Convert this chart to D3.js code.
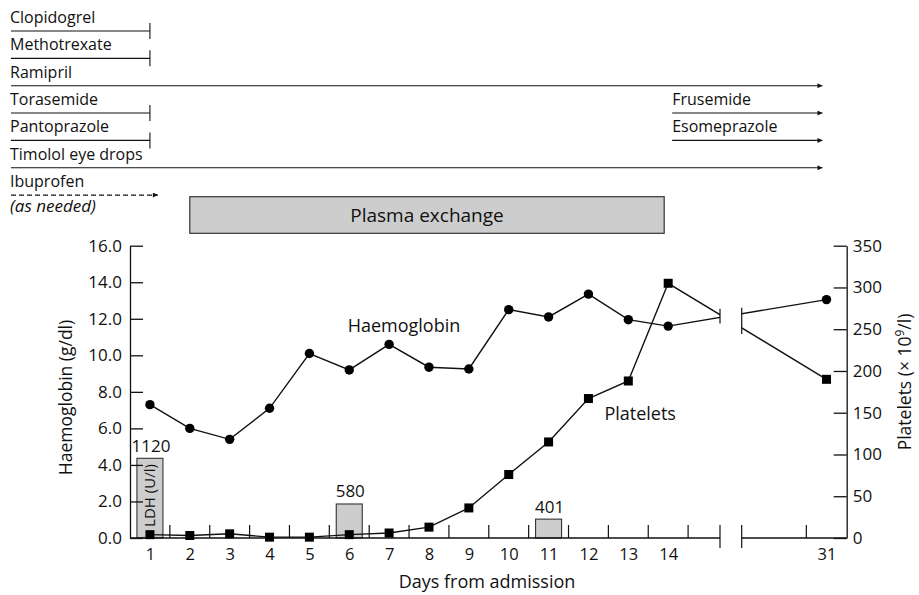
<!DOCTYPE html>
<html>
<head>
<meta charset="utf-8">
<script src="https://cdn.jsdelivr.net/npm/d3@7"></script>
<style>
body { margin: 0; background: #fff; }
text { font-family: "Open Sans", sans-serif; fill: #111; }
</style>
</head>
<body>
<script>
//SVG dimension variables
var w = 919, h = 595;

//days on the x axis (axis is broken between 14 and 31)
var days = [1, 2, 3, 4, 5, 6, 7, 8, 9, 10, 11, 12, 13, 14, 31];
//haemoglobin g/dl
var haemoglobin = [7.3, 6.0, 5.4, 7.1, 10.1, 9.2, 10.6, 9.35, 9.25, 12.5, 12.1, 13.35, 11.95, 11.6, 13.05];
//platelets x 10^9/l
var platelets = [4, 3, 5, 1, 1, 4, 6, 13, 36, 76, 115, 167, 188, 305, 190];

//LDH bars
var ldhDays = [1, 6, 11];
var ldhValues = [1120, 580, 401];

//tick values
var hbTicks = [0, 2, 4, 6, 8, 10, 12, 14, 16];
var pltTicks = [0, 50, 100, 150, 200, 250, 300, 350];
var dayLabels = [1, 2, 3, 4, 5, 6, 7, 8, 9, 10, 11, 12, 13, 14, 31];
var minorTicks = [1.5, 2.5, 3.5, 4.5, 5.5, 6.5, 7.5, 8.5, 9.5, 10.5, 11.5, 12.5, 13.5, 14.5, 30.5];

//medication rows at the top
var drugNames = ["Clopidogrel", "Methotrexate", "Ramipril", "Torasemide", "Pantoprazole", "Timolol eye drops", "Ibuprofen"];
var drugEnd = [1, 1, 30.9, 1, 1, 30.9, 1.2]; //day the line stops
var drugOngoing = [false, false, true, false, false, true, true]; //arrow instead of stop bar
var drugDashed = [false, false, false, false, false, false, true];
var addedDrugs = ["Frusemide", "Esomeprazole"];
var addedRow = [3, 4];
var addedStart = [14.1, 14.1];
var addedEnd = [30.9, 30.9];
var plasmaDays = [2, 13.9];

window.onload = function(){

    var svg = d3.select("body")
        .append("svg")
        .attr("width", w)
        .attr("height", h);

    //broken day scale: 0.5-15.3 | gap | 28.9-31.5
    var x = d3.scaleLinear()
        .domain([0.5, 15.3, 28.9, 31.5])
        .range([130, 720, 741.7, 846.7]);

    var y = d3.scaleLinear() //haemoglobin
        .domain([0, 16])
        .range([538, 245.7]);

    var yP = d3.scaleLinear() //platelets
        .domain([0, 350])
        .range([538, 245.7]);

    //LDH bars are only schematic, fitted to the drawn heights
    var ldhY = d3.scaleLinear()
        .domain([178, 1120])
        .range([538, 458.3]);

    var rowY = function(i){ return 31 + i * 27.35; };
    var labelX = 11;

    //arrow head
    svg.append("defs").append("marker")
        .attr("id", "arrow")
        .attr("viewBox", "0 0 10 10")
        .attr("refX", 10)
        .attr("refY", 5)
        .attr("markerWidth", 11)
        .attr("markerHeight", 5)
        .attr("markerUnits", "userSpaceOnUse")
        .attr("orient", "auto")
        .append("path")
        .attr("d", "M0,0L10,5L0,10z")
        .style("fill", "#111")
        .style("stroke", "none");

    //clip that hides the gap of the axis break
    var clip = svg.select("defs").append("clipPath").attr("id", "gap");
    clip.append("rect").attr("x", 0).attr("y", 0).attr("width", x(15.3)).attr("height", h);
    clip.append("rect").attr("x", x(28.9)).attr("y", 0).attr("width", w - x(28.9)).attr("height", h);

    //---- medication rows ----
    var drugs = svg.append("g").attr("class", "drugs");
    drugNames.forEach(function(name, i){
        drugs.append("text")
            .attr("x", labelX - 1)
            .attr("y", rowY(i) - 8)
            .style("font-size", "16px")
            .text(name);
        var ln = drugs.append("line")
            .attr("x1", labelX)
            .attr("x2", x(drugEnd[i]))
            .attr("y1", rowY(i))
            .attr("y2", rowY(i))
            .style("stroke", "#111")
            .style("stroke-width", 1.1);
        if (drugDashed[i]) ln.style("stroke-dasharray", "5,3");
        if (drugOngoing[i]) {
            ln.attr("marker-end", "url(#arrow)");
        } else {
            drugs.append("line")
                .attr("x1", x(drugEnd[i]))
                .attr("x2", x(drugEnd[i]))
                .attr("y1", rowY(i) - 8)
                .attr("y2", rowY(i) + 8)
                .style("stroke", "#111")
                .style("stroke-width", 1.1);
        }
    });
    drugs.append("text")
        .attr("x", labelX - 1)
        .attr("y", 212)
        .style("font-size", "17px")
        .style("font-style", "italic")
        .text("(as needed)");

    addedDrugs.forEach(function(name, i){
        drugs.append("text")
            .attr("x", x(addedStart[i]))
            .attr("y", rowY(addedRow[i]) - 8)
            .style("font-size", "16px")
            .text(name);
        drugs.append("line")
            .attr("x1", x(addedStart[i]))
            .attr("x2", x(addedEnd[i]))
            .attr("y1", rowY(addedRow[i]))
            .attr("y2", rowY(addedRow[i]))
            .attr("marker-end", "url(#arrow)")
            .style("stroke", "#111")
            .style("stroke-width", 1.1);
    });

    //plasma exchange box
    svg.append("rect")
        .attr("x", x(plasmaDays[0]))
        .attr("y", 196.7)
        .attr("width", x(plasmaDays[1]) - x(plasmaDays[0]))
        .attr("height", 36.6)
        .style("fill", "#cdcdcd")
        .style("stroke", "#333")
        .style("stroke-width", 1.2);
    svg.append("text")
        .attr("x", (x(plasmaDays[0]) + x(plasmaDays[1])) / 2)
        .attr("y", 222)
        .attr("text-anchor", "middle")
        .style("font-size", "19px")
        .text("Plasma exchange");

    //---- LDH bars ----
    svg.selectAll(".ldh")
        .data(ldhValues)
        .enter()
        .append("rect")
        .attr("class", "ldh")
        .attr("x", function(d, i){ return x(ldhDays[i]) - 13; })
        .attr("y", function(d){ return ldhY(d); })
        .attr("width", 26)
        .attr("height", function(d){ return ldhY.range()[0] - ldhY(d); })
        .style("fill", "#cdcdcd")
        .style("stroke", "#333")
        .style("stroke-width", 1.1);

    svg.selectAll(".ldhLabel")
        .data(ldhValues)
        .enter()
        .append("text")
        .attr("class", "ldhLabel")
        .attr("x", function(d, i){ return x(ldhDays[i]) + 1; })
        .attr("y", function(d){ return ldhY(d) - 6.5; })
        .attr("text-anchor", "middle")
        .style("font-size", "17px")
        .text(function(d){ return d; });

    svg.append("text")
        .attr("transform", "translate(" + (x(ldhDays[0]) + 5) + ",495.5) rotate(-90)")
        .attr("text-anchor", "middle")
        .style("font-size", "15px")
        .text("LDH (U/l)");

    //---- axes ----
    var yAxis = svg.append("g")
        .attr("transform", "translate(" + x(0.5) + ",0)")
        .call(d3.axisLeft(y).tickValues(hbTicks).tickSize(-13).tickSizeOuter(0).tickPadding(8)
            .tickFormat(d3.format(".1f")));

    var pAxis = svg.append("g")
        .attr("transform", "translate(" + x(31.5) + ",0)")
        .call(d3.axisRight(yP).tickValues(pltTicks).tickSize(-13).tickSizeOuter(0).tickPadding(6));

    var xAxis = svg.append("g")
        .attr("transform", "translate(0,538)")
        .call(d3.axisBottom(x).tickValues(dayLabels).tickSize(0).tickPadding(10));
    xAxis.select(".domain").remove();

    [yAxis, pAxis, xAxis].forEach(function(g){
        g.attr("font-family", null).attr("font-size", null);
        g.selectAll("text").style("font-size", "17px").style("fill", "#111");
        g.selectAll("line, path").style("stroke", "#111").style("stroke-width", 1.3);
    });
    xAxis.selectAll("text").style("font-size", "16.5px");

    //broken bottom axis line
    var axisParts = [[0.5, 15.3], [28.9, 31.5]];
    svg.selectAll(".xline")
        .data(axisParts)
        .enter()
        .append("line")
        .attr("class", "xline")
        .attr("x1", function(d){ return x(d[0]); })
        .attr("x2", function(d){ return x(d[1]); })
        .attr("y1", 538)
        .attr("y2", 538)
        .style("stroke", "#111")
        .style("stroke-width", 1.3);

    //half-day ticks pointing up
    svg.selectAll(".minor")
        .data(minorTicks)
        .enter()
        .append("line")
        .attr("class", "minor")
        .attr("x1", function(d){ return x(d); })
        .attr("x2", function(d){ return x(d); })
        .attr("y1", 525)
        .attr("y2", 538)
        .style("stroke", "#111")
        .style("stroke-width", 1.2);

    //break marks on the axis
    svg.selectAll(".brk")
        .data([15.3, 28.9])
        .enter()
        .append("line")
        .attr("class", "brk")
        .attr("x1", function(d){ return x(d); })
        .attr("x2", function(d){ return x(d); })
        .attr("y1", 525)
        .attr("y2", 548)
        .style("stroke", "#111")
        .style("stroke-width", 1.2);

    //axis titles
    svg.append("text")
        .attr("transform", "translate(72,397.5) rotate(-90)")
        .attr("text-anchor", "middle")
        .style("font-size", "17.5px")
        .text("Haemoglobin (g/dl)");

    var pTitle = svg.append("text")
        .attr("transform", "translate(911,382) rotate(-90)")
        .attr("text-anchor", "middle")
        .style("font-size", "17.5px");
    pTitle.append("tspan").text("Platelets (\u00d7 10");
    pTitle.append("tspan").attr("dy", -7).style("font-size", "12px").text("9");
    pTitle.append("tspan").attr("dy", 7).text("/l)");

    svg.append("text")
        .attr("x", 487)
        .attr("y", 588)
        .attr("text-anchor", "middle")
        .style("font-size", "18px")
        .text("Days from admission");

    //---- data lines ----
    var hbLine = d3.line()
        .x(function(d, i){ return x(days[i]); })
        .y(function(d){ return y(d); });
    var pLine = d3.line()
        .x(function(d, i){ return x(days[i]); })
        .y(function(d){ return yP(d); });

    var lines = svg.append("g").attr("clip-path", "url(#gap)");
    lines.append("path")
        .datum(haemoglobin)
        .attr("d", hbLine)
        .style("fill", "none")
        .style("stroke", "#111")
        .style("stroke-width", 1.4);
    lines.append("path")
        .datum(platelets)
        .attr("d", pLine)
        .style("fill", "none")
        .style("stroke", "#111")
        .style("stroke-width", 1.4);

    //break marks across the two lines
    var n = days.length;
    function lineYat(px, pts){
        var x0 = x(days[n - 2]), x1 = x(days[n - 1]);
        var t = (px - x0) / (x1 - x0);
        return pts[0] + t * (pts[1] - pts[0]);
    }
    [15.3, 28.9].forEach(function(bd){
        var px = x(bd);
        var a = lineYat(px, [y(haemoglobin[n - 2]), y(haemoglobin[n - 1])]);
        var b = lineYat(px, [yP(platelets[n - 2]), yP(platelets[n - 1])]);
        svg.append("line")
            .attr("x1", px).attr("x2", px)
            .attr("y1", Math.min(a, b) - 6)
            .attr("y2", Math.max(a, b) + 6)
            .style("stroke", "#111")
            .style("stroke-width", 1.2);
    });

    //markers
    svg.selectAll(".hb")
        .data(haemoglobin)
        .enter()
        .append("circle")
        .attr("class", "hb")
        .attr("cx", function(d, i){ return x(days[i]); })
        .attr("cy", function(d){ return y(d); })
        .attr("r", 4.7)
        .style("fill", "#000");

    svg.selectAll(".plt")
        .data(platelets)
        .enter()
        .append("rect")
        .attr("class", "plt")
        .attr("x", function(d, i){ return x(days[i]) - 4.5; })
        .attr("y", function(d){ return yP(d) - 4.5; })
        .attr("width", 9)
        .attr("height", 9)
        .style("fill", "#000");

    //series labels
    svg.append("text")
        .attr("x", x(5.96))
        .attr("y", y(11.3))
        .style("font-size", "18px")
        .text("Haemoglobin");

    svg.append("text")
        .attr("x", x(12.4))
        .attr("y", yP(141))
        .style("font-size", "18px")
        .text("Platelets");
};
</script>
</body>
</html>
